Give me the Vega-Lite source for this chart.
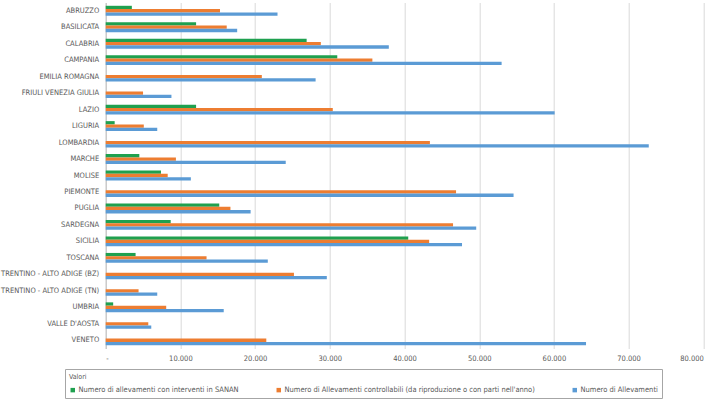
{
  "$schema": "https://vega.github.io/schema/vega-lite/v6.json",
  "width": 597.6,
  "height": 346,
  "autosize": {"type": "none"},
  "padding": {"left": 105.7, "top": 2.5, "right": 5.7, "bottom": 54.5},
  "background": "white",
  "config": {
    "font": "'DejaVu Sans Condensed', 'Liberation Sans Narrow', Roboto, sans-serif",
    "view": {"stroke": null}
  },
  "data": {
    "values": [
      {"regione": "ABRUZZO", "serie": "A", "valore": 3500},
      {"regione": "ABRUZZO", "serie": "B", "valore": 15300},
      {"regione": "ABRUZZO", "serie": "C", "valore": 23000},
      {"regione": "BASILICATA", "serie": "A", "valore": 12100},
      {"regione": "BASILICATA", "serie": "B", "valore": 16200},
      {"regione": "BASILICATA", "serie": "C", "valore": 17600},
      {"regione": "CALABRIA", "serie": "A", "valore": 26900},
      {"regione": "CALABRIA", "serie": "B", "valore": 28800},
      {"regione": "CALABRIA", "serie": "C", "valore": 37900},
      {"regione": "CAMPANIA", "serie": "A", "valore": 31000},
      {"regione": "CAMPANIA", "serie": "B", "valore": 35700},
      {"regione": "CAMPANIA", "serie": "C", "valore": 53000},
      {"regione": "EMILIA ROMAGNA", "serie": "B", "valore": 20900},
      {"regione": "EMILIA ROMAGNA", "serie": "C", "valore": 28100},
      {"regione": "FRIULI VENEZIA GIULIA", "serie": "B", "valore": 5000},
      {"regione": "FRIULI VENEZIA GIULIA", "serie": "C", "valore": 8800},
      {"regione": "LAZIO", "serie": "A", "valore": 12100},
      {"regione": "LAZIO", "serie": "B", "valore": 30400},
      {"regione": "LAZIO", "serie": "C", "valore": 60100},
      {"regione": "LIGURIA", "serie": "A", "valore": 1200},
      {"regione": "LIGURIA", "serie": "B", "valore": 5100},
      {"regione": "LIGURIA", "serie": "C", "valore": 6900},
      {"regione": "LOMBARDIA", "serie": "B", "valore": 43400},
      {"regione": "LOMBARDIA", "serie": "C", "valore": 72700},
      {"regione": "MARCHE", "serie": "A", "valore": 4500},
      {"regione": "MARCHE", "serie": "B", "valore": 9400},
      {"regione": "MARCHE", "serie": "C", "valore": 24100},
      {"regione": "MOLISE", "serie": "A", "valore": 7400},
      {"regione": "MOLISE", "serie": "B", "valore": 8300},
      {"regione": "MOLISE", "serie": "C", "valore": 11400},
      {"regione": "PIEMONTE", "serie": "B", "valore": 46900},
      {"regione": "PIEMONTE", "serie": "C", "valore": 54600},
      {"regione": "PUGLIA", "serie": "A", "valore": 15200},
      {"regione": "PUGLIA", "serie": "B", "valore": 16700},
      {"regione": "PUGLIA", "serie": "C", "valore": 19400},
      {"regione": "SARDEGNA", "serie": "A", "valore": 8700},
      {"regione": "SARDEGNA", "serie": "B", "valore": 46500},
      {"regione": "SARDEGNA", "serie": "C", "valore": 49600},
      {"regione": "SICILIA", "serie": "A", "valore": 40500},
      {"regione": "SICILIA", "serie": "B", "valore": 43300},
      {"regione": "SICILIA", "serie": "C", "valore": 47700},
      {"regione": "TOSCANA", "serie": "A", "valore": 4000},
      {"regione": "TOSCANA", "serie": "B", "valore": 13500},
      {"regione": "TOSCANA", "serie": "C", "valore": 21700},
      {"regione": "TRENTINO - ALTO ADIGE (BZ)", "serie": "B", "valore": 25200},
      {"regione": "TRENTINO - ALTO ADIGE (BZ)", "serie": "C", "valore": 29600},
      {"regione": "TRENTINO - ALTO ADIGE (TN)", "serie": "B", "valore": 4400},
      {"regione": "TRENTINO - ALTO ADIGE (TN)", "serie": "C", "valore": 6900},
      {"regione": "UMBRIA", "serie": "A", "valore": 1000},
      {"regione": "UMBRIA", "serie": "B", "valore": 8100},
      {"regione": "UMBRIA", "serie": "C", "valore": 15800},
      {"regione": "VALLE D'AOSTA", "serie": "B", "valore": 5700},
      {"regione": "VALLE D'AOSTA", "serie": "C", "valore": 6100},
      {"regione": "VENETO", "serie": "B", "valore": 21500},
      {"regione": "VENETO", "serie": "C", "valore": 64300}
    ]
  },
  "mark": {"type": "bar"},
  "encoding": {
    "y": {
      "field": "regione",
      "type": "nominal",
      "sort": null,
      "scale": {"paddingInner": 0.4, "paddingOuter": 0.2},
      "axis": {
        "title": null,
        "ticks": false,
        "labelFontSize": 7.5,
        "labelColor": "#595959",
        "labelPadding": 7,
        "labelLimit": 110,
        "domainColor": "#BFBFBF",
        "grid": false
      }
    },
    "yOffset": {
      "field": "serie",
      "type": "nominal",
      "scale": {"domain": ["A", "B", "C"], "paddingInner": 0, "paddingOuter": 0}
    },
    "x": {
      "field": "valore",
      "type": "quantitative",
      "scale": {"domain": [0, 80000], "nice": false},
      "axis": {
        "title": null,
        "values": [0, 10000, 20000, 30000, 40000, 50000, 60000, 70000, 80000],
        "labelExpr": "datum.value == 0 ? '-' : replace(format(datum.value, ','), ',', '.')",
        "labelFontSize": 7.5,
        "labelColor": "#595959",
        "labelPadding": 6,
        "ticks": false,
        "domain": false,
        "grid": true,
        "gridColor": "#D9D9D9",
        "gridWidth": 1
      }
    },
    "color": {
      "field": "serie",
      "type": "nominal",
      "scale": {
        "domain": ["A", "B", "C"],
        "range": ["#1FA04F", "#ED7D31", "#5B9BD5"]
      },
      "legend": {
        "orient": "none",
        "legendX": -40.7,
        "legendY": 366.5,
        "direction": "horizontal",
        "title": "Valori",
        "titleFontSize": 7,
        "titleFontWeight": "normal",
        "titleColor": "#595959",
        "titlePadding": 6,
        "symbolType": "square",
        "symbolSize": 20,
        "symbolStrokeWidth": 0,
        "labelFontSize": 7.5,
        "labelColor": "#595959",
        "labelOffset": 2,
        "columnPadding": 36,
        "strokeColor": "#A6A6A6",
        "padding": 4,
        "labelLimit": 400,
        "labelExpr": "datum.value == 'A' ? 'Numero di allevamenti con interventi in SANAN' : datum.value == 'B' ? 'Numero di Allevamenti controllabili (da riproduzione o con parti nell\\'anno)' : 'Numero di Allevamenti'"
      }
    }
  }
}
